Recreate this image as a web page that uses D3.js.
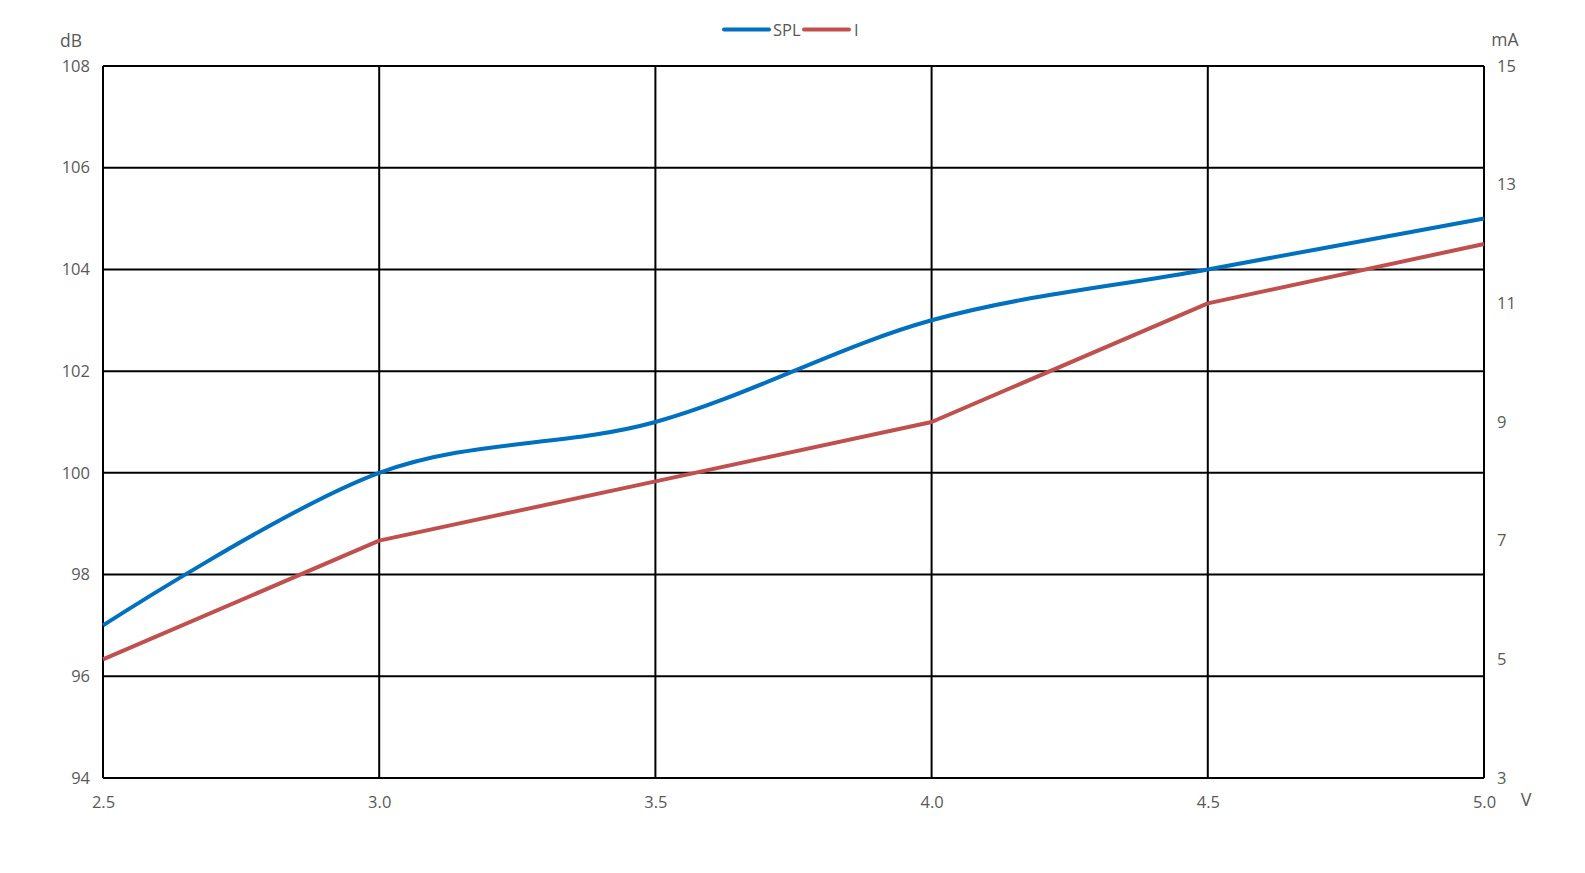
<!DOCTYPE html>
<html><head><meta charset="utf-8">
<script src="https://cdn.jsdelivr.net/npm/d3@7"></script>
<style>body{margin:0;background:#fff;} text{font-family:"Open Sans","Liberation Sans",sans-serif;fill:#595959;font-size:16.5px;}</style>
</head><body>
<svg id="c" width="1585" height="873"></svg>
<script>
const voltage = [2.5, 3.0, 3.5, 4.0, 4.5, 5.0];
const spl = [97, 100, 101, 103, 104, 105];
const current = [5, 7, 8, 9, 11, 12];
const xTicks = [2.5, 3.0, 3.5, 4.0, 4.5, 5.0];
const leftTicks = [94, 96, 98, 100, 102, 104, 106, 108];
const rightTicks = [3, 5, 7, 9, 11, 13, 15];

const svg = d3.select("#c");
const L = 103, R = 1484, T = 66, B = 778;
const x = d3.scaleLinear().domain([2.5, 5.0]).range([L, R]);
const yL = d3.scaleLinear().domain([94, 108]).range([B, T]);
const yR = d3.scaleLinear().domain([3, 15]).range([B, T]);

const g = svg.append("g");
g.selectAll("line.h").data(leftTicks).join("line")
  .attr("x1", L).attr("x2", R).attr("y1", d => yL(d)).attr("y2", d => yL(d))
  .attr("stroke", "#000").attr("stroke-width", 2);
g.selectAll("line.v").data(xTicks).join("line")
  .attr("x1", d => x(d)).attr("x2", d => x(d)).attr("y1", T).attr("y2", B)
  .attr("stroke", "#000").attr("stroke-width", 2);

const axL = d3.axisLeft(yL).tickValues(leftTicks).tickSize(0).tickPadding(13).tickFormat(d3.format("d"));
const axR = d3.axisRight(yR).tickValues(rightTicks).tickSize(0).tickPadding(13).tickFormat(d3.format("d"));
const axB = d3.axisBottom(x).tickValues(xTicks).tickSize(0).tickPadding(18).tickFormat(d3.format(".1f"));
[[axL, `translate(${L},0)`], [axR, `translate(${R},0)`], [axB, `translate(0,${B})`]].forEach(([a, t]) => {
  const s = svg.append("g").attr("transform", t).call(a);
  s.select(".domain").remove();
  s.selectAll("text").attr("fill", "#595959").style("font-size", "16.5px")
    .style("font-family", '"Open Sans","Liberation Sans",sans-serif');
});

svg.append("text").attr("x", 71).attr("y", 41).attr("text-anchor", "middle").attr("dy", "0.35em").style("font-size", "17.5px").text("dB");
svg.append("text").attr("x", 1505).attr("y", 40).attr("text-anchor", "middle").attr("dy", "0.35em").style("font-size", "17.5px").text("mA");
svg.append("text").attr("x", 1526).attr("y", 800).attr("text-anchor", "middle").attr("dy", "0.35em").style("font-size", "18px").text("V");

const lineSPL = d3.line().x((d, i) => x(voltage[i])).y(d => yL(d)).curve(d3.curveCardinal.tension(0));
const lineI = d3.line().x((d, i) => x(voltage[i])).y(d => yR(d));
svg.append("path").attr("d", lineI(current)).attr("fill", "none").attr("stroke", "#C0504D").attr("stroke-width", 4).attr("stroke-linejoin", "round");
svg.append("path").attr("d", lineSPL(spl)).attr("fill", "none").attr("stroke", "#0070C0").attr("stroke-width", 4).attr("stroke-linejoin", "round");

const leg = [{name: "SPL", color: "#0070C0", x1: 724, x2: 769, tx: 773},
             {name: "I", color: "#C0504D", x1: 804, x2: 849, tx: 854}];
const lg = svg.append("g");
leg.forEach(l => {
  lg.append("line").attr("x1", l.x1).attr("x2", l.x2).attr("y1", 29.5).attr("y2", 29.5)
    .attr("stroke", l.color).attr("stroke-width", 4).attr("stroke-linecap", "round");
  lg.append("text").attr("x", l.tx).attr("y", 30).attr("dy", "0.35em").text(l.name);
});
</script>
</body></html>
